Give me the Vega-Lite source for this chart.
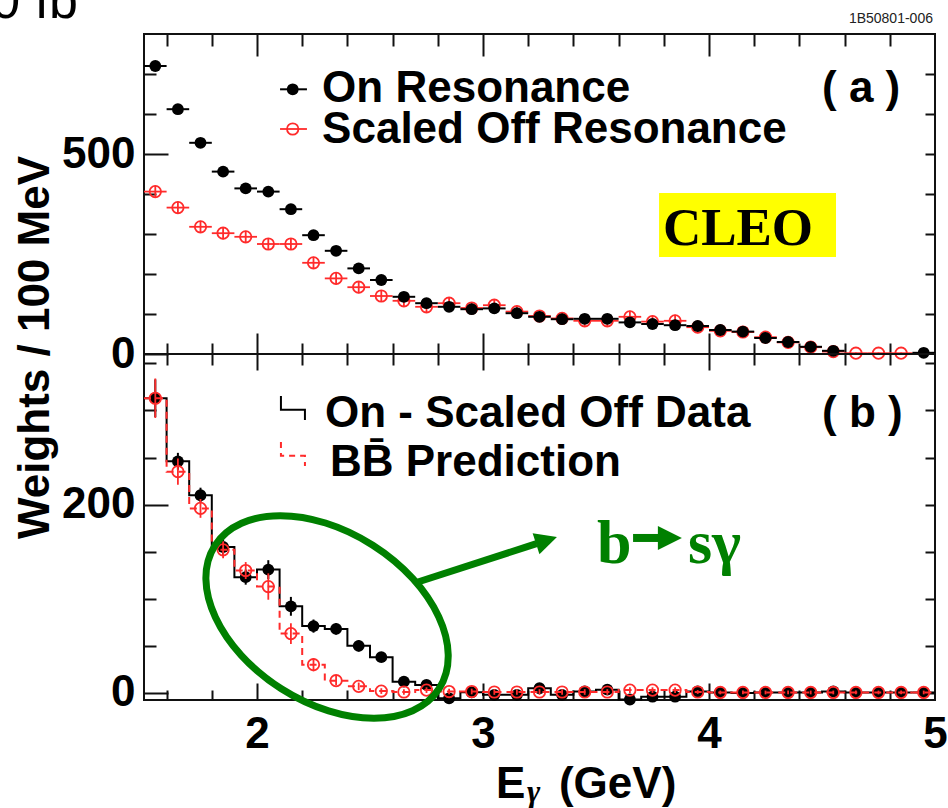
{
  "$schema": "https://vega.github.io/schema/vega-lite/v6.json",
  "width": 791,
  "height": 666,
  "autosize": {"type": "none"},
  "padding": {"left": 144, "top": 34, "right": 13, "bottom": 108},
  "background": "white",
  "config": {
    "view": {"stroke": "#111", "strokeWidth": 2},
    "axis": {"grid": false, "domain": false}
  },
  "data": {"values": [{}]},
  "datasets": {
    "top": [
      {"E": 1.55, "lo": 1.5, "hi": 1.6, "on": 720, "on_lo": 710, "on_hi": 730, "off": 406, "off_lo": 391, "off_hi": 421},
      {"E": 1.65, "lo": 1.6, "hi": 1.7, "on": 612, "on_lo": 602, "on_hi": 622, "off": 366, "off_lo": 351, "off_hi": 381},
      {"E": 1.75, "lo": 1.7, "hi": 1.8, "on": 528, "on_lo": 518, "on_hi": 538, "off": 318, "off_lo": 303, "off_hi": 333},
      {"E": 1.85, "lo": 1.8, "hi": 1.9, "on": 456, "on_lo": 446, "on_hi": 466, "off": 302, "off_lo": 287, "off_hi": 317},
      {"E": 1.95, "lo": 1.9, "hi": 2.0, "on": 414, "on_lo": 404, "on_hi": 424, "off": 293, "off_lo": 278, "off_hi": 308},
      {"E": 2.05, "lo": 2.0, "hi": 2.1, "on": 406, "on_lo": 396, "on_hi": 416, "off": 275, "off_lo": 260, "off_hi": 290},
      {"E": 2.15, "lo": 2.1, "hi": 2.2, "on": 362, "on_lo": 352, "on_hi": 372, "off": 275, "off_lo": 260, "off_hi": 290},
      {"E": 2.25, "lo": 2.2, "hi": 2.3, "on": 297, "on_lo": 287, "on_hi": 307, "off": 228, "off_lo": 213, "off_hi": 243},
      {"E": 2.35, "lo": 2.3, "hi": 2.4, "on": 258, "on_lo": 248, "on_hi": 268, "off": 189, "off_lo": 174, "off_hi": 204},
      {"E": 2.45, "lo": 2.4, "hi": 2.5, "on": 214, "on_lo": 204, "on_hi": 224, "off": 167, "off_lo": 152, "off_hi": 182},
      {"E": 2.55, "lo": 2.5, "hi": 2.6, "on": 185, "on_lo": 175, "on_hi": 195, "off": 145, "off_lo": 130, "off_hi": 160},
      {"E": 2.65, "lo": 2.6, "hi": 2.7, "on": 143, "on_lo": 133, "on_hi": 153, "off": 133, "off_lo": 118, "off_hi": 148},
      {"E": 2.75, "lo": 2.7, "hi": 2.8, "on": 127, "on_lo": 117, "on_hi": 137, "off": 118, "off_lo": 103, "off_hi": 133},
      {"E": 2.85, "lo": 2.8, "hi": 2.9, "on": 118, "on_lo": 108, "on_hi": 128, "off": 127, "off_lo": 112, "off_hi": 142},
      {"E": 2.95, "lo": 2.9, "hi": 3.0, "on": 112, "on_lo": 102, "on_hi": 122, "off": 115, "off_lo": 100, "off_hi": 130},
      {"E": 3.05, "lo": 3.0, "hi": 3.1, "on": 114, "on_lo": 104, "on_hi": 124, "off": 122, "off_lo": 107, "off_hi": 137},
      {"E": 3.15, "lo": 3.1, "hi": 3.2, "on": 102, "on_lo": 92, "on_hi": 112, "off": 106, "off_lo": 91, "off_hi": 121},
      {"E": 3.25, "lo": 3.2, "hi": 3.3, "on": 93, "on_lo": 83, "on_hi": 103, "off": 95, "off_lo": 80, "off_hi": 110},
      {"E": 3.35, "lo": 3.3, "hi": 3.4, "on": 87, "on_lo": 77, "on_hi": 97, "off": 89, "off_lo": 74, "off_hi": 104},
      {"E": 3.45, "lo": 3.4, "hi": 3.5, "on": 88, "on_lo": 78, "on_hi": 98, "off": 83, "off_lo": 68, "off_hi": 98},
      {"E": 3.55, "lo": 3.5, "hi": 3.6, "on": 88, "on_lo": 78, "on_hi": 98, "off": 83, "off_lo": 68, "off_hi": 98},
      {"E": 3.65, "lo": 3.6, "hi": 3.7, "on": 79, "on_lo": 69, "on_hi": 89, "off": 93, "off_lo": 78, "off_hi": 108},
      {"E": 3.75, "lo": 3.7, "hi": 3.8, "on": 75, "on_lo": 65, "on_hi": 85, "off": 81, "off_lo": 66, "off_hi": 96},
      {"E": 3.85, "lo": 3.8, "hi": 3.9, "on": 72, "on_lo": 62, "on_hi": 82, "off": 83, "off_lo": 68, "off_hi": 98},
      {"E": 3.95, "lo": 3.9, "hi": 4.0, "on": 70, "on_lo": 60, "on_hi": 80, "off": 67, "off_lo": 52, "off_hi": 82},
      {"E": 4.05, "lo": 4.0, "hi": 4.1, "on": 60, "on_lo": 50, "on_hi": 70, "off": 58, "off_lo": 43, "off_hi": 73},
      {"E": 4.15, "lo": 4.1, "hi": 4.2, "on": 56, "on_lo": 46, "on_hi": 66, "off": 55, "off_lo": 40, "off_hi": 70},
      {"E": 4.25, "lo": 4.2, "hi": 4.3, "on": 40, "on_lo": 30, "on_hi": 50, "off": 42, "off_lo": 27, "off_hi": 57},
      {"E": 4.35, "lo": 4.3, "hi": 4.4, "on": 30, "on_lo": 20, "on_hi": 40, "off": 29, "off_lo": 14, "off_hi": 44},
      {"E": 4.45, "lo": 4.4, "hi": 4.5, "on": 18, "on_lo": 8, "on_hi": 28, "off": 17, "off_lo": 2, "off_hi": 32},
      {"E": 4.55, "lo": 4.5, "hi": 4.6, "on": 8, "on_lo": 0, "on_hi": 16, "off": 6, "off_lo": 0, "off_hi": 12},
      {"E": 4.65, "lo": 4.6, "hi": 4.7, "on": null, "on_lo": null, "on_hi": null, "off": 2, "off_lo": 0, "off_hi": 4},
      {"E": 4.75, "lo": 4.7, "hi": 4.8, "on": null, "on_lo": null, "on_hi": null, "off": 2, "off_lo": 0, "off_hi": 4},
      {"E": 4.85, "lo": 4.8, "hi": 4.9, "on": null, "on_lo": null, "on_hi": null, "off": 2, "off_lo": 0, "off_hi": 4},
      {"E": 4.95, "lo": 4.9, "hi": 5.0, "on": 3, "on_lo": 0, "on_hi": 6, "off": null, "off_lo": null, "off_hi": null}
    ],
    "bot": [
      {"E": 1.55, "lo": 1.5, "hi": 1.6, "sub": 313, "sub_lo": 293, "sub_hi": 333, "bb": 313, "bb_lo": 292, "bb_hi": 334},
      {"E": 1.65, "lo": 1.6, "hi": 1.7, "sub": 246, "sub_lo": 237, "sub_hi": 255, "bb": 235, "bb_lo": 221, "bb_hi": 249},
      {"E": 1.75, "lo": 1.7, "hi": 1.8, "sub": 210, "sub_lo": 202, "sub_hi": 218, "bb": 196, "bb_lo": 186, "bb_hi": 206},
      {"E": 1.85, "lo": 1.8, "hi": 1.9, "sub": 155, "sub_lo": 146, "sub_hi": 164, "bb": 152, "bb_lo": 143, "bb_hi": 161},
      {"E": 1.95, "lo": 1.9, "hi": 2.0, "sub": 123, "sub_lo": 115, "sub_hi": 131, "bb": 130, "bb_lo": 121, "bb_hi": 139},
      {"E": 2.05, "lo": 2.0, "hi": 2.1, "sub": 131, "sub_lo": 121, "sub_hi": 141, "bb": 113, "bb_lo": 99, "bb_hi": 127},
      {"E": 2.15, "lo": 2.1, "hi": 2.2, "sub": 92, "sub_lo": 82, "sub_hi": 102, "bb": 63, "bb_lo": 52, "bb_hi": 74},
      {"E": 2.25, "lo": 2.2, "hi": 2.3, "sub": 71, "sub_lo": 64, "sub_hi": 78, "bb": 30, "bb_lo": 23, "bb_hi": 37},
      {"E": 2.35, "lo": 2.3, "hi": 2.4, "sub": 68, "sub_lo": 62, "sub_hi": 74, "bb": 13, "bb_lo": 8, "bb_hi": 18},
      {"E": 2.45, "lo": 2.4, "hi": 2.5, "sub": 50, "sub_lo": 44, "sub_hi": 56, "bb": 7, "bb_lo": 3, "bb_hi": 11},
      {"E": 2.55, "lo": 2.5, "hi": 2.6, "sub": 38, "sub_lo": 33, "sub_hi": 43, "bb": 2, "bb_lo": -1, "bb_hi": 5},
      {"E": 2.65, "lo": 2.6, "hi": 2.7, "sub": 12, "sub_lo": 7, "sub_hi": 17, "bb": 1, "bb_lo": -2, "bb_hi": 4},
      {"E": 2.75, "lo": 2.7, "hi": 2.8, "sub": 8.5, "sub_lo": 4.5, "sub_hi": 12.5, "bb": 3, "bb_lo": 0, "bb_hi": 6},
      {"E": 2.85, "lo": 2.8, "hi": 2.9, "sub": -5.7, "sub_lo": -9.7, "sub_hi": -1.7, "bb": 1.5, "bb_lo": -1.5, "bb_hi": 4.5},
      {"E": 2.95, "lo": 2.9, "hi": 3.0, "sub": 0.7, "sub_lo": -3.3, "sub_hi": 4.7, "bb": 1.5, "bb_lo": -1.5, "bb_hi": 4.5},
      {"E": 3.05, "lo": 3.0, "hi": 3.1, "sub": -2, "sub_lo": -6, "sub_hi": 2, "bb": 1, "bb_lo": -2, "bb_hi": 4},
      {"E": 3.15, "lo": 3.1, "hi": 3.2, "sub": -2, "sub_lo": -6, "sub_hi": 2, "bb": 1, "bb_lo": -2, "bb_hi": 4},
      {"E": 3.25, "lo": 3.2, "hi": 3.3, "sub": 5, "sub_lo": 1, "sub_hi": 9, "bb": 1, "bb_lo": -2, "bb_hi": 4},
      {"E": 3.35, "lo": 3.3, "hi": 3.4, "sub": -2, "sub_lo": -6, "sub_hi": 2, "bb": 1, "bb_lo": -2, "bb_hi": 4},
      {"E": 3.45, "lo": 3.4, "hi": 3.5, "sub": 1.5, "sub_lo": -2.5, "sub_hi": 5.5, "bb": 1, "bb_lo": -2, "bb_hi": 4},
      {"E": 3.55, "lo": 3.5, "hi": 3.6, "sub": 3.5, "sub_lo": -0.5, "sub_hi": 7.5, "bb": 1, "bb_lo": -2, "bb_hi": 4},
      {"E": 3.65, "lo": 3.6, "hi": 3.7, "sub": -7, "sub_lo": -11, "sub_hi": -3, "bb": 3, "bb_lo": 0, "bb_hi": 6},
      {"E": 3.75, "lo": 3.7, "hi": 3.8, "sub": -4, "sub_lo": -8, "sub_hi": 0, "bb": 3, "bb_lo": 0, "bb_hi": 6},
      {"E": 3.85, "lo": 3.8, "hi": 3.9, "sub": -4, "sub_lo": -8, "sub_hi": 0, "bb": 3, "bb_lo": 0, "bb_hi": 6},
      {"E": 3.95, "lo": 3.9, "hi": 4.0, "sub": 1.5, "sub_lo": -1.5, "sub_hi": 4.5, "bb": 1, "bb_lo": -1, "bb_hi": 3},
      {"E": 4.05, "lo": 4.0, "hi": 4.1, "sub": 0.5, "sub_lo": -2.5, "sub_hi": 3.5, "bb": 0.5, "bb_lo": -1.5, "bb_hi": 2.5},
      {"E": 4.15, "lo": 4.1, "hi": 4.2, "sub": 0, "sub_lo": -3, "sub_hi": 3, "bb": 0.5, "bb_lo": -1.5, "bb_hi": 2.5},
      {"E": 4.25, "lo": 4.2, "hi": 4.3, "sub": 0.5, "sub_lo": -2.5, "sub_hi": 3.5, "bb": 0.5, "bb_lo": -1.5, "bb_hi": 2.5},
      {"E": 4.35, "lo": 4.3, "hi": 4.4, "sub": 0.5, "sub_lo": -2.5, "sub_hi": 3.5, "bb": 0.5, "bb_lo": -1.5, "bb_hi": 2.5},
      {"E": 4.45, "lo": 4.4, "hi": 4.5, "sub": 0.5, "sub_lo": -2.5, "sub_hi": 3.5, "bb": 0.5, "bb_lo": -1.5, "bb_hi": 2.5},
      {"E": 4.55, "lo": 4.5, "hi": 4.6, "sub": 1.5, "sub_lo": -1.5, "sub_hi": 4.5, "bb": 0.5, "bb_lo": -1.5, "bb_hi": 2.5},
      {"E": 4.65, "lo": 4.6, "hi": 4.7, "sub": 0.5, "sub_lo": -1.5, "sub_hi": 2.5, "bb": 0.5, "bb_lo": -1.5, "bb_hi": 2.5},
      {"E": 4.75, "lo": 4.7, "hi": 4.8, "sub": 0.5, "sub_lo": -1.5, "sub_hi": 2.5, "bb": 0.5, "bb_lo": -1.5, "bb_hi": 2.5},
      {"E": 4.85, "lo": 4.8, "hi": 4.9, "sub": 0.5, "sub_lo": -1.5, "sub_hi": 2.5, "bb": 0.5, "bb_lo": -1.5, "bb_hi": 2.5},
      {"E": 4.95, "lo": 4.9, "hi": 5.0, "sub": 0.5, "sub_lo": -1.5, "sub_hi": 2.5, "bb": 0.5, "bb_lo": -1.5, "bb_hi": 2.5}
    ]
  },
  "resolve": {
    "scale": {"y": "independent"},
    "axis": {"x": "independent", "y": "independent"}
  },
  "layer": [
    {
      "data": {"name": "top"},
      "transform": [{"filter": "isValid(datum.off)"}],
      "mark": {"type": "rule", "color": "#ff2b2b", "strokeWidth": 1.8},
      "encoding": {
        "x": {"field": "lo", "type": "quantitative", "scale": {"domain": [1.5, 5], "nice": false, "zero": false},
              "axis": {"orient": "top", "values": [1.6, 1.8, 2, 2.2, 2.4, 2.6, 2.8, 3, 3.2, 3.4, 3.6, 3.8, 4, 4.2, 4.4, 4.6, 4.8], "labels": false, "domain": false, "grid": false, "title": null, "tickColor": "#111", "tickWidth": 2, "tickSize": {"condition": {"test": "datum.value % 1 === 0", "value": -22}, "value": -12}}},
        "x2": {"field": "hi"},
        "y": {"field": "off", "type": "quantitative", "scale": {"domain": [-865, 800], "nice": false, "zero": false},
              "axis": {"orient": "right", "values": [100, 200, 300, 400, 500, 600, 700], "labels": false, "domain": false, "grid": false, "title": null, "tickColor": "#111", "tickWidth": 2, "tickSize": -10}}
      }
    },
    {
      "data": {"name": "top"},
      "transform": [{"filter": "isValid(datum.off)"}],
      "mark": {"type": "rule", "color": "#ff2b2b", "strokeWidth": 1.8},
      "encoding": {
        "x": {"field": "E", "type": "quantitative", "scale": {"domain": [1.5, 5], "nice": false, "zero": false},
              "axis": {"orient": "top", "offset": -320, "values": [1.6, 1.8, 2, 2.2, 2.4, 2.6, 2.8, 3, 3.2, 3.4, 3.6, 3.8, 4, 4.2, 4.4, 4.6, 4.8], "labels": false, "domain": false, "grid": false, "title": null, "tickColor": "#111", "tickWidth": 2, "tickSize": {"condition": {"test": "datum.value % 1 === 0", "value": -16}, "value": -11}}},
        "y": {"field": "off_lo", "type": "quantitative", "scale": {"domain": [-865, 800], "nice": false, "zero": false}, "axis": null},
        "y2": {"field": "off_hi"}
      }
    },
    {
      "data": {"name": "top"},
      "transform": [{"filter": "isValid(datum.off)"}],
      "mark": {"type": "point", "filled": false, "color": "#ff2b2b", "size": 130, "strokeWidth": 1.8, "opacity": 1},
      "encoding": {
        "x": {"field": "E", "type": "quantitative", "scale": {"domain": [1.5, 5], "nice": false, "zero": false},
              "axis": {"orient": "bottom", "values": [2, 3, 4, 5], "ticks": false, "domain": false, "grid": false, "title": null, "labelPadding": 12, "labelFont": "Liberation Sans", "labelFontWeight": "bold", "labelFontSize": 44, "labelColor": "#000", "labelFlush": false, "labelOverlap": false}},
        "y": {"field": "off", "type": "quantitative", "scale": {"domain": [-865, 800], "nice": false, "zero": false}, "axis": null}
      }
    },
    {
      "data": {"name": "top"},
      "transform": [{"filter": "isValid(datum.on)"}],
      "mark": {"type": "rule", "color": "#000", "strokeWidth": 2},
      "encoding": {
        "x": {"field": "lo", "type": "quantitative", "scale": {"domain": [1.5, 5], "nice": false, "zero": false},
              "axis": {"orient": "bottom", "values": [1.6, 1.8, 2, 2.2, 2.4, 2.6, 2.8, 3, 3.2, 3.4, 3.6, 3.8, 4, 4.2, 4.4, 4.6, 4.8], "labels": false, "domain": false, "grid": false, "title": null, "tickColor": "#111", "tickWidth": 2, "tickSize": {"condition": {"test": "datum.value % 1 === 0", "value": -17}, "value": -10}}},
        "x2": {"field": "hi"},
        "y": {"field": "on", "type": "quantitative", "scale": {"domain": [-865, 800], "nice": false, "zero": false},
              "axis": {"orient": "left", "values": [0, 100, 200, 300, 400, 500, 600, 700], "labels": false, "domain": false, "grid": false, "title": null, "tickColor": "#111", "tickWidth": 2, "tickSize": {"condition": {"test": "datum.value % 500 === 0", "value": -24}, "value": -12}}}
      }
    },
    {
      "data": {"name": "top"},
      "transform": [{"filter": "isValid(datum.on)"}],
      "mark": {"type": "rule", "color": "#000", "strokeWidth": 2},
      "encoding": {
        "x": {"field": "E", "type": "quantitative", "scale": {"domain": [1.5, 5], "nice": false, "zero": false},
              "axis": {"orient": "bottom", "offset": -346, "values": [1.6, 1.8, 2, 2.2, 2.4, 2.6, 2.8, 3, 3.2, 3.4, 3.6, 3.8, 4, 4.2, 4.4, 4.6, 4.8], "labels": false, "domain": false, "grid": false, "title": null, "tickColor": "#111", "tickWidth": 2, "tickSize": {"condition": {"test": "datum.value % 1 === 0", "value": -21}, "value": -11}}},
        "y": {"field": "on_lo", "type": "quantitative", "scale": {"domain": [-865, 800], "nice": false, "zero": false},
              "axis": {"orient": "left", "values": [0, 500], "ticks": false, "domain": false, "grid": false, "title": null, "labelPadding": 9, "labelFont": "Liberation Sans", "labelFontWeight": "bold", "labelFontSize": 44, "labelColor": "#000", "labelFlush": false, "labelOverlap": false}},
        "y2": {"field": "on_hi"}
      }
    },
    {
      "data": {"name": "top"},
      "transform": [{"filter": "isValid(datum.on)"}],
      "mark": {"type": "point", "filled": true, "color": "#000", "size": 140, "opacity": 1},
      "encoding": {
        "x": {"field": "E", "type": "quantitative", "scale": {"domain": [1.5, 5], "nice": false, "zero": false}, "axis": null},
        "y": {"field": "on", "type": "quantitative", "scale": {"domain": [-865, 800], "nice": false, "zero": false}, "axis": null}
      }
    },
    {
      "data": {"name": "bot"},
      "mark": {"type": "line", "interpolate": "step-after", "color": "#000", "strokeWidth": 2},
      "encoding": {
        "x": {"field": "lo", "type": "quantitative", "scale": {"domain": [1.5, 5], "nice": false, "zero": false}, "axis": null},
        "y": {"field": "sub", "type": "quantitative", "scale": {"domain": [-7.5, 699.87], "nice": false, "zero": false},
              "axis": {"orient": "left", "values": [0, 50, 100, 150, 200, 250, 300, 350], "labels": false, "domain": false, "grid": false, "title": null, "tickColor": "#111", "tickWidth": 2, "tickSize": {"condition": {"test": "datum.value % 200 === 0", "value": -24}, "value": -12}}}
      }
    },
    {
      "data": {"name": "bot"},
      "transform": [{"filter": "datum.E > 4.9"}],
      "mark": {"type": "rule", "color": "#000", "strokeWidth": 2},
      "encoding": {
        "x": {"field": "lo", "type": "quantitative", "scale": {"domain": [1.5, 5], "nice": false, "zero": false}, "axis": null},
        "x2": {"field": "hi"},
        "y": {"field": "sub", "type": "quantitative", "scale": {"domain": [-7.5, 699.87], "nice": false, "zero": false}, "axis": null}
      }
    },
    {
      "data": {"name": "bot"},
      "mark": {"type": "rule", "color": "#000", "strokeWidth": 2},
      "encoding": {
        "x": {"field": "E", "type": "quantitative", "scale": {"domain": [1.5, 5], "nice": false, "zero": false}, "axis": null},
        "y": {"field": "sub_lo", "type": "quantitative", "scale": {"domain": [-7.5, 699.87], "nice": false, "zero": false},
              "axis": {"orient": "right", "values": [0, 50, 100, 150, 200, 250, 300, 350], "labels": false, "domain": false, "grid": false, "title": null, "tickColor": "#111", "tickWidth": 2, "tickSize": -10}},
        "y2": {"field": "sub_hi"}
      }
    },
    {
      "data": {"name": "bot"},
      "mark": {"type": "point", "filled": true, "color": "#000", "size": 140, "opacity": 1},
      "encoding": {
        "x": {"field": "E", "type": "quantitative", "scale": {"domain": [1.5, 5], "nice": false, "zero": false}, "axis": null},
        "y": {"field": "sub", "type": "quantitative", "scale": {"domain": [-7.5, 699.87], "nice": false, "zero": false}, "axis": null}
      }
    },
    {
      "data": {"name": "bot"},
      "mark": {"type": "line", "interpolate": "step-after", "color": "#ff2b2b", "strokeWidth": 2, "strokeDash": [7, 5]},
      "encoding": {
        "x": {"field": "lo", "type": "quantitative", "scale": {"domain": [1.5, 5], "nice": false, "zero": false}, "axis": null},
        "y": {"field": "bb", "type": "quantitative", "scale": {"domain": [-7.5, 699.87], "nice": false, "zero": false},
              "axis": {"orient": "left", "values": [0, 200], "ticks": false, "domain": false, "grid": false, "labelPadding": 9, "labelFont": "Liberation Sans", "labelFontWeight": "bold", "labelFontSize": 44, "labelColor": "#000", "labelFlush": false, "labelOverlap": false,
                       "title": "Weights / 100 MeV", "titleFont": "Liberation Sans", "titleFontWeight": "bold", "titleFontSize": 44, "titleColor": "#000", "titleAngle": 270, "titleAlign": "center", "titleBaseline": "alphabetic", "titleX": -96, "titleY": 313}}
      }
    },
    {
      "data": {"name": "bot"},
      "transform": [{"filter": "datum.E > 4.9"}],
      "mark": {"type": "rule", "color": "#ff2b2b", "strokeWidth": 2, "strokeDash": [7, 5]},
      "encoding": {
        "x": {"field": "lo", "type": "quantitative", "scale": {"domain": [1.5, 5], "nice": false, "zero": false}, "axis": null},
        "x2": {"field": "hi"},
        "y": {"field": "bb", "type": "quantitative", "scale": {"domain": [-7.5, 699.87], "nice": false, "zero": false}, "axis": null}
      }
    },
    {
      "data": {"name": "bot"},
      "mark": {"type": "rule", "color": "#ff2b2b", "strokeWidth": 1.8},
      "encoding": {
        "x": {"field": "E", "type": "quantitative", "scale": {"domain": [1.5, 5], "nice": false, "zero": false}, "axis": null},
        "y": {"field": "bb_lo", "type": "quantitative", "scale": {"domain": [-7.5, 699.87], "nice": false, "zero": false}, "axis": null},
        "y2": {"field": "bb_hi"}
      }
    },
    {
      "data": {"name": "bot"},
      "mark": {"type": "point", "filled": false, "color": "#ff2b2b", "size": 130, "strokeWidth": 1.8, "opacity": 1},
      "encoding": {
        "x": {"field": "E", "type": "quantitative", "scale": {"domain": [1.5, 5], "nice": false, "zero": false}, "axis": null},
        "y": {"field": "bb", "type": "quantitative", "scale": {"domain": [-7.5, 699.87], "nice": false, "zero": false}, "axis": null}
      }
    },
    {
      "mark": {"type": "rule", "color": "#111", "strokeWidth": 2},
      "encoding": {
        "y": {"datum": 0, "type": "quantitative", "scale": {"domain": [-865, 800], "nice": false, "zero": false}, "axis": null}
      }
    },
    {
      "mark": {"type": "rule", "color": "#000", "strokeWidth": 2},
      "encoding": {
        "x": {"datum": 2.102, "type": "quantitative", "scale": {"domain": [1.5, 5], "nice": false, "zero": false}, "axis": null},
        "x2": {"datum": 2.221},
        "y": {"datum": 661.75, "type": "quantitative", "scale": {"domain": [-865, 800], "nice": false, "zero": false}, "axis": null}
      }
    },
    {
      "mark": {"type": "point", "filled": true, "color": "#000", "size": 140, "opacity": 1},
      "encoding": {
        "x": {"datum": 2.158, "type": "quantitative", "scale": {"domain": [1.5, 5], "nice": false, "zero": false}, "axis": null},
        "y": {"datum": 661.75, "type": "quantitative", "scale": {"domain": [-865, 800], "nice": false, "zero": false}, "axis": null}
      }
    },
    {
      "mark": {"type": "rule", "color": "#ff2b2b", "strokeWidth": 1.8},
      "encoding": {
        "x": {"datum": 2.102, "type": "quantitative", "scale": {"domain": [1.5, 5], "nice": false, "zero": false}, "axis": null},
        "x2": {"datum": 2.221},
        "y": {"datum": 562.5, "type": "quantitative", "scale": {"domain": [-865, 800], "nice": false, "zero": false}, "axis": null}
      }
    },
    {
      "mark": {"type": "point", "filled": false, "color": "#ff2b2b", "size": 130, "strokeWidth": 1.8, "opacity": 1},
      "encoding": {
        "x": {"datum": 2.158, "type": "quantitative", "scale": {"domain": [1.5, 5], "nice": false, "zero": false}, "axis": null},
        "y": {"datum": 562.5, "type": "quantitative", "scale": {"domain": [-865, 800], "nice": false, "zero": false}, "axis": null}
      }
    },
    {
      "mark": {"type": "text", "text": "On Resonance", "align": "left", "baseline": "alphabetic", "font": "Liberation Sans", "fontWeight": "bold", "fontSize": 44, "color": "#000"},
      "encoding": {
        "x": {"datum": 2.288, "type": "quantitative", "scale": {"domain": [1.5, 5], "nice": false, "zero": false}, "axis": null},
        "y": {"datum": 631, "type": "quantitative", "scale": {"domain": [-865, 800], "nice": false, "zero": false}, "axis": null}
      }
    },
    {
      "mark": {"type": "text", "text": "Scaled Off Resonance", "align": "left", "baseline": "alphabetic", "font": "Liberation Sans", "fontWeight": "bold", "fontSize": 44, "color": "#000"},
      "encoding": {
        "x": {"datum": 2.288, "type": "quantitative", "scale": {"domain": [1.5, 5], "nice": false, "zero": false}, "axis": null},
        "y": {"datum": 527.5, "type": "quantitative", "scale": {"domain": [-865, 800], "nice": false, "zero": false}, "axis": null}
      }
    },
    {
      "mark": {"type": "text", "text": "( a )", "align": "left", "baseline": "alphabetic", "font": "Liberation Sans", "fontWeight": "bold", "fontSize": 44, "color": "#000"},
      "encoding": {
        "x": {"datum": 4.5, "type": "quantitative", "scale": {"domain": [1.5, 5], "nice": false, "zero": false}, "axis": null},
        "y": {"datum": 631, "type": "quantitative", "scale": {"domain": [-865, 800], "nice": false, "zero": false}, "axis": null}
      }
    },
    {
      "mark": {"type": "rect", "color": "#ffff00"},
      "encoding": {
        "x": {"datum": 3.779, "type": "quantitative", "scale": {"domain": [1.5, 5], "nice": false, "zero": false}, "axis": null},
        "x2": {"datum": 4.562},
        "y": {"datum": 402.5, "type": "quantitative", "scale": {"domain": [-865, 800], "nice": false, "zero": false}, "axis": null},
        "y2": {"datum": 242.5}
      }
    },
    {
      "mark": {"type": "text", "text": "CLEO", "align": "left", "baseline": "alphabetic", "font": "Liberation Serif", "fontWeight": "bold", "fontSize": 53, "color": "#000"},
      "encoding": {
        "x": {"datum": 3.796, "type": "quantitative", "scale": {"domain": [1.5, 5], "nice": false, "zero": false}, "axis": null},
        "y": {"datum": 272.5, "type": "quantitative", "scale": {"domain": [-865, 800], "nice": false, "zero": false}, "axis": null}
      }
    },
    {
      "mark": {"type": "text", "text": "1B50801-006", "align": "right", "baseline": "alphabetic", "font": "Liberation Sans", "fontSize": 14, "color": "#222"},
      "encoding": {
        "x": {"datum": 4.991, "type": "quantitative", "scale": {"domain": [1.5, 5], "nice": false, "zero": false}, "axis": null},
        "y": {"datum": 827.5, "type": "quantitative", "scale": {"domain": [-865, 800], "nice": false, "zero": false}, "axis": null}
      }
    },
    {
      "mark": {"type": "text", "text": "0 fb", "align": "right", "baseline": "alphabetic", "font": "Liberation Sans", "fontSize": 52, "color": "#000"},
      "encoding": {
        "x": {"datum": 1.208, "type": "quantitative", "scale": {"domain": [1.5, 5], "nice": false, "zero": false}, "axis": null},
        "y": {"datum": 840, "type": "quantitative", "scale": {"domain": [-865, 800], "nice": false, "zero": false}, "axis": null}
      }
    },
    {
      "mark": {"type": "point", "shape": "M -1,-1 L -1,0.15 L 1,0.15 L 1,1", "filled": false, "color": "#000", "size": 576, "strokeWidth": 2, "opacity": 1},
      "encoding": {
        "x": {"datum": 2.159, "type": "quantitative", "scale": {"domain": [1.5, 5], "nice": false, "zero": false}, "axis": null},
        "y": {"datum": 302.6, "type": "quantitative", "scale": {"domain": [-7.5, 699.87], "nice": false, "zero": false}, "axis": null}
      }
    },
    {
      "mark": {"type": "point", "shape": "M -1,-1 L -1,0.15 L 1,0.15 L 1,1", "filled": false, "color": "#ff2b2b", "size": 576, "strokeWidth": 2, "strokeDash": [6, 5], "opacity": 1},
      "encoding": {
        "x": {"datum": 2.159, "type": "quantitative", "scale": {"domain": [1.5, 5], "nice": false, "zero": false}, "axis": null},
        "y": {"datum": 253.8, "type": "quantitative", "scale": {"domain": [-7.5, 699.87], "nice": false, "zero": false}, "axis": null}
      }
    },
    {
      "mark": {"type": "text", "text": "On - Scaled Off Data", "align": "left", "baseline": "alphabetic", "font": "Liberation Sans", "fontWeight": "bold", "fontSize": 44, "color": "#000"},
      "encoding": {
        "x": {"datum": 2.301, "type": "quantitative", "scale": {"domain": [1.5, 5], "nice": false, "zero": false}, "axis": null},
        "y": {"datum": 282.5, "type": "quantitative", "scale": {"domain": [-7.5, 699.87], "nice": false, "zero": false}, "axis": null}
      }
    },
    {
      "mark": {"type": "text", "text": "BB\u0304 Prediction", "align": "left", "baseline": "alphabetic", "font": "Liberation Sans", "fontWeight": "bold", "fontSize": 44, "color": "#000"},
      "encoding": {
        "x": {"datum": 2.323, "type": "quantitative", "scale": {"domain": [1.5, 5], "nice": false, "zero": false}, "axis": null},
        "y": {"datum": 230.4, "type": "quantitative", "scale": {"domain": [-7.5, 699.87], "nice": false, "zero": false}, "axis": null}
      }
    },
    {
      "mark": {"type": "text", "text": "( b )", "align": "left", "baseline": "alphabetic", "font": "Liberation Sans", "fontWeight": "bold", "fontSize": 44, "color": "#000"},
      "encoding": {
        "x": {"datum": 4.5, "type": "quantitative", "scale": {"domain": [1.5, 5], "nice": false, "zero": false}, "axis": null},
        "y": {"datum": 282.5, "type": "quantitative", "scale": {"domain": [-7.5, 699.87], "nice": false, "zero": false}, "axis": null}
      }
    },
    {
      "mark": {"type": "point", "shape": "M 1,0 C 1,0.3535 0.5523,0.64 0,0.64 C -0.5523,0.64 -1,0.3535 -1,0 C -1,-0.3535 -0.5523,-0.64 0,-0.64 C 0.5523,-0.64 1,-0.3535 1,0 Z", "filled": false, "color": "#008000", "size": 70756, "angle": 32.5, "strokeWidth": 7, "opacity": 1},
      "encoding": {
        "x": {"datum": 2.31, "type": "quantitative", "scale": {"domain": [1.5, 5], "nice": false, "zero": false}, "axis": null},
        "y": {"datum": 80.66, "type": "quantitative", "scale": {"domain": [-7.5, 699.87], "nice": false, "zero": false}, "axis": null}
      }
    },
    {
      "mark": {"type": "rule", "color": "#008000", "strokeWidth": 7},
      "encoding": {
        "x": {"datum": 2.712, "type": "quantitative", "scale": {"domain": [1.5, 5], "nice": false, "zero": false}, "axis": null},
        "x2": {"datum": 3.237},
        "y": {"datum": 117.8, "type": "quantitative", "scale": {"domain": [-7.5, 699.87], "nice": false, "zero": false}, "axis": null},
        "y2": {"datum": 158.6}
      }
    },
    {
      "mark": {"type": "point", "shape": "M 1,0 L -1,-1 L -1,1 Z", "filled": true, "color": "#008000", "size": 484, "angle": -18, "opacity": 1},
      "encoding": {
        "x": {"datum": 3.281, "type": "quantitative", "scale": {"domain": [1.5, 5], "nice": false, "zero": false}, "axis": null},
        "y": {"datum": 162.0, "type": "quantitative", "scale": {"domain": [-7.5, 699.87], "nice": false, "zero": false}, "axis": null}
      }
    },
    {
      "mark": {"type": "text", "text": "b", "align": "left", "baseline": "alphabetic", "font": "Liberation Serif", "fontWeight": "bold", "fontSize": 62, "color": "#008000"},
      "encoding": {
        "x": {"datum": 3.504, "type": "quantitative", "scale": {"domain": [1.5, 5], "nice": false, "zero": false}, "axis": null},
        "y": {"datum": 138.0, "type": "quantitative", "scale": {"domain": [-7.5, 699.87], "nice": false, "zero": false}, "axis": null}
      }
    },
    {
      "mark": {"type": "rule", "color": "#008000", "strokeWidth": 8},
      "encoding": {
        "x": {"datum": 3.664, "type": "quantitative", "scale": {"domain": [1.5, 5], "nice": false, "zero": false}, "axis": null},
        "x2": {"datum": 3.79},
        "y": {"datum": 164.6, "type": "quantitative", "scale": {"domain": [-7.5, 699.87], "nice": false, "zero": false}, "axis": null}
      }
    },
    {
      "mark": {"type": "point", "shape": "M 1,0 L -1,-1 L -1,1 Z", "filled": true, "color": "#008000", "size": 576, "opacity": 1},
      "encoding": {
        "x": {"datum": 3.827, "type": "quantitative", "scale": {"domain": [1.5, 5], "nice": false, "zero": false}, "axis": null},
        "y": {"datum": 164.6, "type": "quantitative", "scale": {"domain": [-7.5, 699.87], "nice": false, "zero": false}, "axis": null}
      }
    },
    {
      "mark": {"type": "text", "text": "s\u03b3", "align": "left", "baseline": "alphabetic", "font": "Liberation Serif", "fontWeight": "bold", "fontSize": 62, "color": "#008000"},
      "encoding": {
        "x": {"datum": 3.907, "type": "quantitative", "scale": {"domain": [1.5, 5], "nice": false, "zero": false}, "axis": null},
        "y": {"datum": 138.0, "type": "quantitative", "scale": {"domain": [-7.5, 699.87], "nice": false, "zero": false}, "axis": null}
      }
    },
    {
      "mark": {"type": "text", "text": "E", "align": "left", "baseline": "alphabetic", "font": "Liberation Sans", "fontWeight": "bold", "fontSize": 44, "color": "#000"},
      "encoding": {
        "x": {"datum": 3.0575, "type": "quantitative", "scale": {"domain": [1.5, 5], "nice": false, "zero": false}, "axis": null},
        "y": {"datum": -111.6, "type": "quantitative", "scale": {"domain": [-7.5, 699.87], "nice": false, "zero": false}, "axis": null}
      }
    },
    {
      "mark": {"type": "text", "text": "\u03b3", "align": "left", "baseline": "alphabetic", "font": "Liberation Serif", "fontStyle": "italic", "fontWeight": "bold", "fontSize": 32, "color": "#000"},
      "encoding": {
        "x": {"datum": 3.195, "type": "quantitative", "scale": {"domain": [1.5, 5], "nice": false, "zero": false}, "axis": null},
        "y": {"datum": -116.0, "type": "quantitative", "scale": {"domain": [-7.5, 699.87], "nice": false, "zero": false}, "axis": null}
      }
    },
    {
      "mark": {"type": "text", "text": "(GeV)", "align": "left", "baseline": "alphabetic", "font": "Liberation Sans", "fontWeight": "bold", "fontSize": 44, "color": "#000"},
      "encoding": {
        "x": {"datum": 3.336, "type": "quantitative", "scale": {"domain": [1.5, 5], "nice": false, "zero": false}, "axis": null},
        "y": {"datum": -111.6, "type": "quantitative", "scale": {"domain": [-7.5, 699.87], "nice": false, "zero": false}, "axis": null}
      }
    }
  ]
}
